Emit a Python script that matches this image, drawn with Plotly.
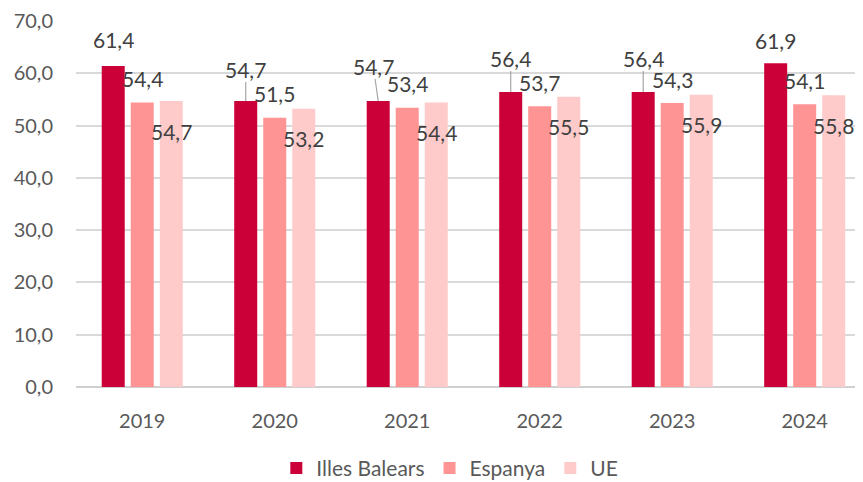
import plotly.graph_objects as go

years = ["2019", "2020", "2021", "2022", "2023", "2024"]
balears = [61.4, 54.7, 54.7, 56.4, 56.4, 61.9]
espanya = [54.4, 51.5, 53.4, 53.7, 54.3, 54.1]
ue = [54.7, 53.2, 54.4, 55.5, 55.9, 55.8]
series_names = ["Illes Balears", "Espanya", "UE"]
y_ticks = [0, 10, 20, 30, 40, 50, 60, 70]

colors = ["#CC0038", "#FF9494", "#FFCACA"]
label_color = "#404040"
font_family = "Lato, 'Open Sans', sans-serif"

# label placement styles (pixel offsets of label centre from bar top)
bal_dx = [0, 0, -5, 0, 0, 0]
bal_dy = [26, 32, 35, 34, 34, 23]
bal_leader = [False, True, True, True, True, False]
esp_dy = 24
ue_dy = -30
slot = 29


def fmt(v):
    return f"{v:.1f}".replace(".", ",")


fig = go.Figure()
for name, vals, col in zip(series_names, [balears, espanya, ue], colors):
    fig.add_trace(go.Bar(x=years, y=vals, name=name, marker_color=col,
                         marker_line_width=0, hoverinfo="x+y"))

lab_font = dict(size=21, color=label_color, family=font_family)
ann = []
for i, yr in enumerate(years):
    if bal_leader[i]:
        ann.append(dict(x=i, y=balears[i], xref="x", yref="y", text=fmt(balears[i]),
                        showarrow=True, arrowhead=0, arrowwidth=1.2, arrowcolor="#A6A6A6",
                        ax=bal_dx[i], ay=-bal_dy[i], axref="pixel", ayref="pixel",
                        xshift=-slot, standoff=0, borderpad=0, font=lab_font))
    else:
        ann.append(dict(x=i, y=balears[i], xref="x", yref="y", text=fmt(balears[i]),
                        showarrow=False, xshift=-slot + bal_dx[i], yshift=bal_dy[i],
                        font=lab_font))
    ann.append(dict(x=i, y=espanya[i], xref="x", yref="y", text=fmt(espanya[i]),
                    showarrow=False, xshift=0, yshift=esp_dy, font=lab_font))
    ann.append(dict(x=i, y=ue[i], xref="x", yref="y", text=fmt(ue[i]),
                    showarrow=False, xshift=slot, yshift=ue_dy, font=lab_font))

fig.update_layout(
    width=855, height=474,
    margin=dict(l=68, r=0, t=13, b=95, autoexpand=False),
    paper_bgcolor="white", plot_bgcolor="white",
    separators=",.",
    barmode="group", bargap=0.343, bargroupgap=0.207,
    font=dict(family=font_family, size=20, color="#595959"),
    annotations=ann,
    legend=dict(orientation="h", x=0.475, xanchor="center", y=-0.222, yanchor="middle",
                font=dict(size=21, color="#595959"), traceorder="normal"),
    showlegend=True,
)
fig.update_xaxes(type="category", range=[-0.5, 5.44], showgrid=False, showline=False,
                 ticks="", ticklabelstandoff=20, tickfont=dict(size=20, color="#595959"))
fig.update_yaxes(range=[0, 70], tickvals=y_ticks, tickformat=".1f", showgrid=True,
                 gridcolor="#D9D9D9", gridwidth=1.5, zeroline=True, zerolinecolor="#D0D0D0",
                 zerolinewidth=2, showline=False, ticks="", ticklabelstandoff=22,
                 tickfont=dict(size=20, color="#595959"))

fig.write_html("out.html")
